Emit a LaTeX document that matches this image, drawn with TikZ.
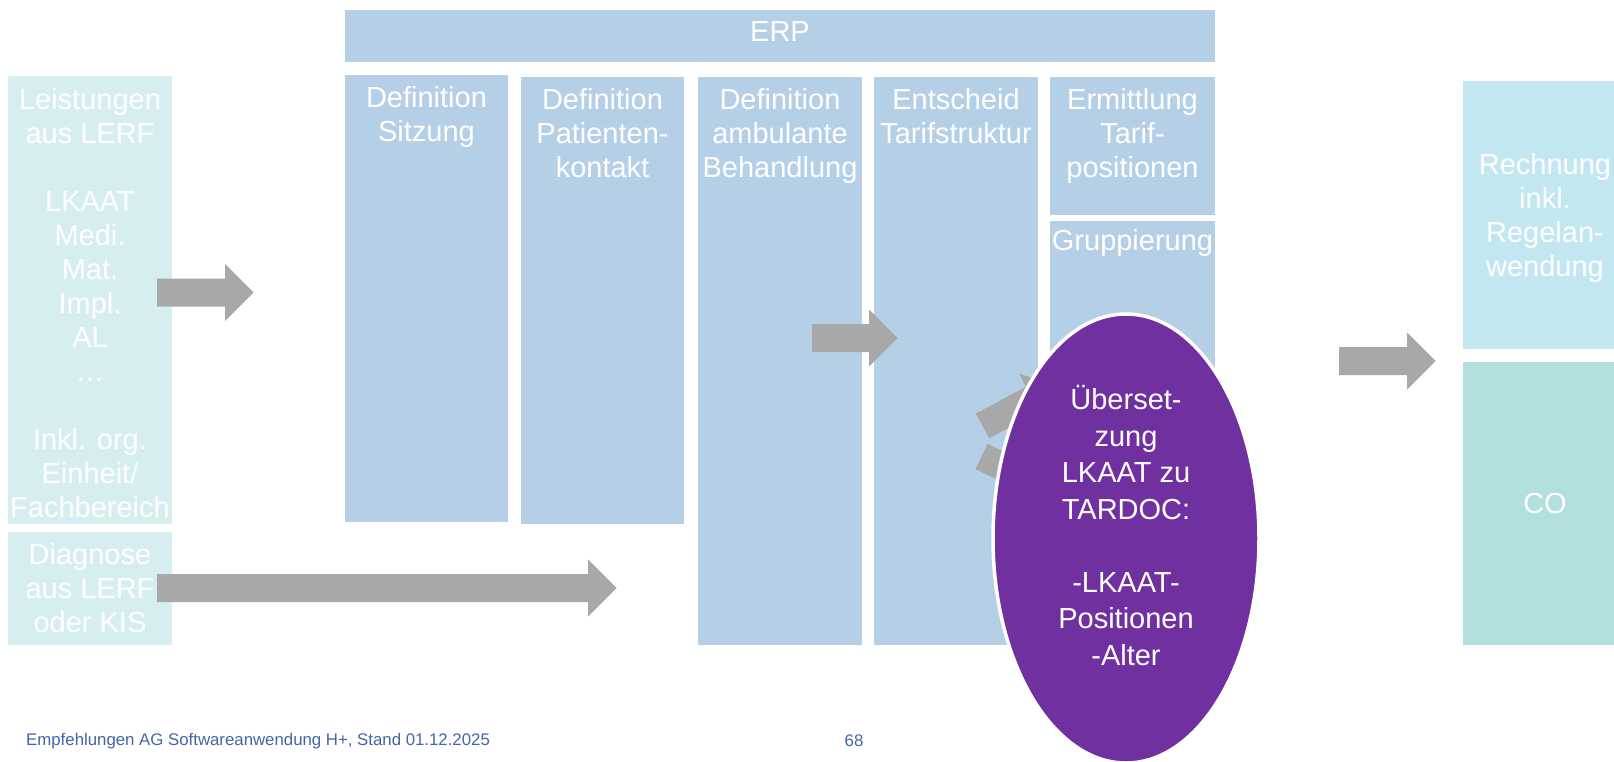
\documentclass[tikz,border=0pt]{standalone}
\usepackage{fontspec}
\setmainfont{Liberation Sans}
\usetikzlibrary{shapes.geometric}
\definecolor{erpblue}{RGB}{181,207,231}
\definecolor{leftcyan}{RGB}{214,238,240}
\definecolor{rightcyan}{RGB}{195,231,241}
\definecolor{cogreen}{RGB}{177,224,222}
\definecolor{arrowgray}{RGB}{168,168,168}
\definecolor{violet}{RGB}{112,48,160}
\definecolor{footblue}{RGB}{68,100,170}
\newcommand{\garrow}[4]{%
  \fill[arrowgray, shift={(#1,#2)}, rotate=#3]
    (0,-14) -- (#4,-14) -- (#4,-28.5) -- ({#4+28.5},0) -- (#4,28.5) -- (#4,14) -- (0,14) -- cycle;}
\begin{document}
\begin{tikzpicture}[x=1pt,y=-1pt,
  box/.style={inner sep=0pt, outer sep=0pt, draw=none, anchor=north west},
  txt/.style={text=white, align=center, inner sep=0pt, anchor=north, font=\fontsize{29}{34}\selectfont},
  ctxt/.style={txt, anchor=center}]
\useasboundingbox (0,0) rectangle (1614,762);
% ERP
\node[box, fill=erpblue, minimum width=870pt, minimum height=52pt] (erp) at (345,10) {};
\node[txt] (erpt) at (780,21) {ERP};
% columns
\node[box, fill=erpblue, minimum width=163pt, minimum height=447pt] (c1) at (345,75) {};
\node[box, fill=erpblue, minimum width=163pt, minimum height=447pt] (c2) at (521,77) {};
\node[box, fill=erpblue, minimum width=164pt, minimum height=568pt] (c3) at (698,77) {};
\node[box, fill=erpblue, minimum width=164pt, minimum height=568pt] (c4) at (874,77) {};
\node[box, fill=erpblue, minimum width=165pt, minimum height=138pt] (c5a) at (1050,77) {};
\node[box, fill=erpblue, minimum width=165pt, minimum height=424pt] (c5b) at (1050,221) {};
\node[txt] (c1t) at (426.5,86.5) {Definition\\Sitzung};
\node[txt] (c2t) at (602.5,88) {Definition\\Patienten-\\kontakt};
\node[txt] (c3t) at (780,88) {Definition\\ambulante\\Behandlung};
\node[txt] (c4t) at (956,88) {Entscheid\\Tarifstruktur};
\node[txt] (c5at) at (1132.5,88) {Ermittlung\\Tarif-\\positionen};
\node[txt] (c5bt) at (1132.5,229.5) {Gruppierung};
% left boxes
\node[box, fill=leftcyan, minimum width=164pt, minimum height=448pt] (l1) at (8,76) {};
\node[box, fill=leftcyan, minimum width=164pt, minimum height=113pt] (l2) at (8,532) {};
\node[txt] (l1t) at (90,88.5) {Leistungen\\aus LERF\\[34pt]LKAAT\\Medi.\\Mat.\\Impl.\\AL\\…\\[34pt]Inkl. org.\\Einheit/\\Fachbereich};
\node[ctxt] (l2t) at (90,588.5) {Diagnose\\aus LERF\\oder KIS};
% right boxes
\node[box, fill=rightcyan, minimum width=164pt, minimum height=268pt] (r1) at (1463,81) {};
\node[box, fill=cogreen, minimum width=164pt, minimum height=283pt] (r2) at (1463,362) {};
\node[ctxt] (r1t) at (1545,218.5) {Rechnung\\inkl.\\Regelan-\\wendung};
\node[ctxt] (r2t) at (1545,504) {CO};
% block arrows
\garrow{157}{292.5}{0}{68}
\garrow{157}{588}{0}{431}
\garrow{812}{338}{0}{57}
\garrow{1339}{361}{0}{68}
\garrow{982.5}{426}{28.4}{57}
\garrow{981.5}{456.5}{-25.6}{57}
% ellipse
\node[ellipse, draw=white, line width=3.5pt, fill=violet, inner sep=0pt,
      minimum width=266pt, minimum height=449pt] (ell) at (1126,538.5) {};
\node[txt, font=\fontsize{29}{36.5}\selectfont] (ellt) at (1126,385.5)
  {Überset-\\zung\\LKAAT zu\\TARDOC:\\[36.5pt]-LKAAT-\\Positionen\\-Alter};
% footer
\node[anchor=west, inner sep=0pt, text=footblue, font=\fontsize{16.8}{20}\selectfont] (foot) at (26,741)
  {Empfehlungen AG Softwareanwendung H+, Stand 01.12.2025};
\node[inner sep=0pt, text=footblue, font=\fontsize{16.8}{20}\selectfont] (page) at (854,741) {68};
\end{tikzpicture}
\end{document}
